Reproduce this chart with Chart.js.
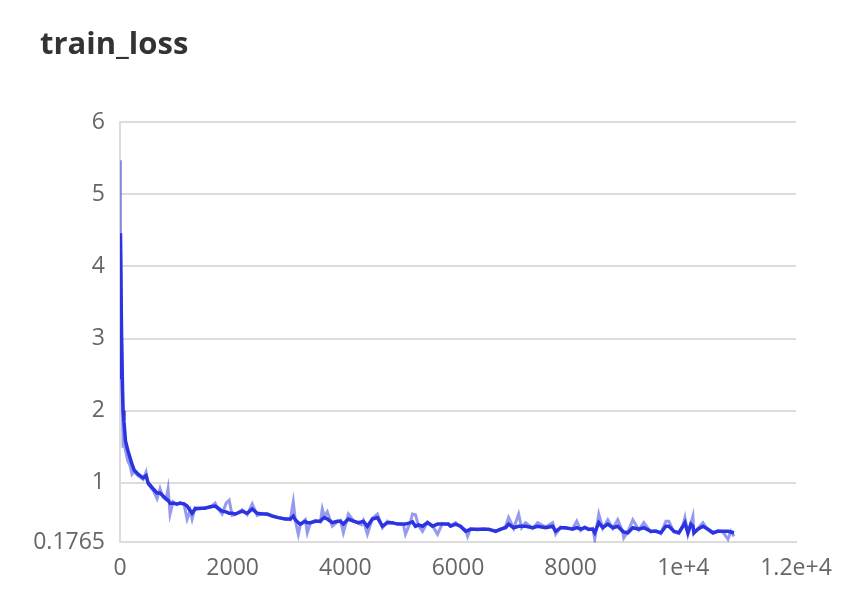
<!DOCTYPE html>
<html>
<head>
<meta charset="utf-8">
<script src="https://cdn.jsdelivr.net/npm/chart.js@4/dist/chart.umd.min.js"></script>
<style>
  html, body { margin: 0; padding: 0; background: #fff; }
  #wrap { position: relative; width: 856px; height: 602px; }
  #title {
    position: absolute; left: 40px; top: 22px;
    font: bold 31px "Open Sans", "Noto Sans", sans-serif; color: #333;
    line-height: 40px;
  }
</style>
</head>
<body>
<div id="wrap">
  <div id="title">train_loss</div>
  <canvas id="graph-loss"></canvas>
</div>
<script>
// training steps, raw loss and smoothed loss
const steps = [
  0, 8, 27, 45, 55, 70, 98, 140, 178, 213, 250, 320, 410, 462, 500, 587, 658, 711, 765, 818,
  853, 889, 942, 1013, 1067, 1138, 1191, 1245, 1280, 1333, 1422, 1511, 1600, 1689, 1742, 1813, 1884, 1938, 1991, 2045,
  2169, 2258, 2347, 2436, 2525, 2614, 2703, 2809, 2934, 3023, 3076, 3112, 3165, 3200, 3289, 3325, 3378, 3467, 3556, 3591,
  3627, 3680, 3769, 3858, 3912, 3965, 4054, 4143, 4232, 4285, 4320, 4392, 4481, 4570, 4659, 4748, 4836, 4925, 5032, 5067,
  5156, 5192, 5245, 5298, 5370, 5458, 5547, 5636, 5725, 5832, 5867, 5956, 6045, 6134, 6170, 6223, 6348, 6454, 6543, 6668,
  6757, 6845, 6898, 6988, 7076, 7130, 7200, 7325, 7414, 7556, 7680, 7734, 7823, 7912, 8036, 8108, 8179, 8250, 8321, 8392,
  8428, 8499, 8570, 8659, 8748, 8836, 8925, 8943, 9014, 9103, 9210, 9299, 9423, 9512, 9601, 9690, 9743, 9832, 9921, 9992,
  10028, 10081, 10134, 10170, 10188, 10259, 10348, 10437, 10526, 10615, 10703, 10792, 10845, 10899
];

const rawLoss = [
  5.47, 4.6, 3.0, 1.9, 1.51, 1.55, 1.45, 1.30, 1.24, 1.12, 1.16, 1.10, 1.05, 1.15, 0.98, 0.90, 0.78, 0.92, 0.80, 0.77,
  0.92, 0.57, 0.74, 0.70, 0.73, 0.70, 0.50, 0.62, 0.50, 0.66, 0.64, 0.66, 0.66, 0.72, 0.64, 0.57, 0.72, 0.76, 0.55, 0.56,
  0.63, 0.56, 0.71, 0.55, 0.58, 0.56, 0.55, 0.52, 0.50, 0.49, 0.74, 0.48, 0.29, 0.42, 0.49, 0.31, 0.44, 0.48, 0.46, 0.64,
  0.53, 0.60, 0.40, 0.46, 0.48, 0.31, 0.57, 0.48, 0.44, 0.42, 0.48, 0.29, 0.51, 0.57, 0.38, 0.47, 0.44, 0.44, 0.42, 0.29,
  0.46, 0.57, 0.56, 0.41, 0.33, 0.46, 0.41, 0.29, 0.44, 0.42, 0.41, 0.45, 0.39, 0.35, 0.26, 0.37, 0.35, 0.37, 0.35, 0.34,
  0.35, 0.40, 0.52, 0.37, 0.57, 0.38, 0.45, 0.37, 0.45, 0.39, 0.45, 0.29, 0.39, 0.37, 0.37, 0.47, 0.34, 0.39, 0.35, 0.37,
  0.22, 0.57, 0.37, 0.49, 0.37, 0.49, 0.32, 0.24, 0.32, 0.49, 0.35, 0.45, 0.32, 0.34, 0.30, 0.47, 0.47, 0.32, 0.30, 0.41,
  0.52, 0.29, 0.44, 0.54, 0.30, 0.37, 0.45, 0.35, 0.30, 0.34, 0.32, 0.22, 0.33, 0.26
];

const smoothLoss = [
  2.46, 4.46, 3.1, 2.3, 2.0, 1.85, 1.58, 1.45, 1.35, 1.26, 1.18, 1.12, 1.07, 1.10, 1.00, 0.92, 0.86, 0.86, 0.82, 0.78,
  0.76, 0.72, 0.72, 0.71, 0.72, 0.71, 0.68, 0.62, 0.58, 0.64, 0.65, 0.65, 0.67, 0.68, 0.65, 0.61, 0.60, 0.58, 0.58, 0.57,
  0.61, 0.58, 0.64, 0.58, 0.57, 0.57, 0.54, 0.52, 0.50, 0.50, 0.54, 0.49, 0.45, 0.43, 0.47, 0.45, 0.45, 0.47, 0.47, 0.50,
  0.52, 0.50, 0.45, 0.47, 0.47, 0.43, 0.50, 0.47, 0.45, 0.46, 0.47, 0.40, 0.50, 0.52, 0.40, 0.45, 0.45, 0.43, 0.43, 0.43,
  0.45, 0.46, 0.40, 0.42, 0.40, 0.45, 0.40, 0.43, 0.43, 0.43, 0.40, 0.43, 0.40, 0.33, 0.34, 0.36, 0.36, 0.36, 0.36, 0.33,
  0.36, 0.38, 0.43, 0.38, 0.40, 0.40, 0.40, 0.38, 0.40, 0.38, 0.40, 0.33, 0.38, 0.38, 0.36, 0.38, 0.36, 0.38, 0.36, 0.36,
  0.31, 0.45, 0.38, 0.43, 0.38, 0.40, 0.33, 0.32, 0.31, 0.38, 0.36, 0.38, 0.33, 0.33, 0.31, 0.40, 0.40, 0.33, 0.31, 0.40,
  0.45, 0.31, 0.43, 0.40, 0.31, 0.36, 0.40, 0.36, 0.31, 0.33, 0.33, 0.33, 0.32, 0.31
];

const yTickValues = [0.1765, 1, 2, 3, 4, 5, 6];

const fontFamily = '"Open Sans", "Noto Sans", sans-serif';

const ctx = document.getElementById('graph-loss');
const graph = new Chart(ctx, {
  type: 'line',
  data: {
    datasets: [{
      label: 'raw',
      data: steps.map((s, i) => ({x: s, y: rawLoss[i]})),
      borderColor: 'rgba(43, 53, 224, 0.5)',
      borderWidth: 3,
      pointRadius: 0,
      tension: 0,
    }, {
      label: 'smoothed',
      data: steps.map((s, i) => ({x: s, y: smoothLoss[i]})),
      borderColor: '#2a33e0',
      borderWidth: 3.5,
      pointRadius: 0,
      tension: 0,
    }]
  },
  options: {
    responsive: true,
    maintainAspectRatio: false,
    animation: false,
    layout: {
      padding: {left: 10, right: 60, top: 122, bottom: 8},
    },
    plugins: {
      legend: {display: false},
      tooltip: {enabled: false},
    },
    scales: {
      x: {
        type: 'linear',
        min: 0,
        max: 12000,
        grid: {display: false, drawTicks: false},
        border: {display: true, color: '#dcdcdc', width: 2},
        ticks: {
          stepSize: 2000,
          color: '#666',
          padding: 12,
          maxRotation: 0,
          font: {family: fontFamily, size: 23},
          callback: (v) => v >= 10000 ? v.toExponential() : String(v),
        },
      },
      y: {
        type: 'linear',
        min: 0.1765,
        max: 6,
        afterBuildTicks: (axis) => { axis.ticks = yTickValues.map(v => ({value: v})); },
        afterFit: (axis) => { axis.width = 110; },
        grid: {color: '#dcdcdc', lineWidth: 2, drawTicks: false},
        border: {display: true, color: '#dcdcdc', width: 2},
        ticks: {
          color: '#666',
          padding: 15,
          font: {family: fontFamily, size: 23},
          callback: (v) => String(v),
        },
      },
    },
  },
});
</script>
</body>
</html>
